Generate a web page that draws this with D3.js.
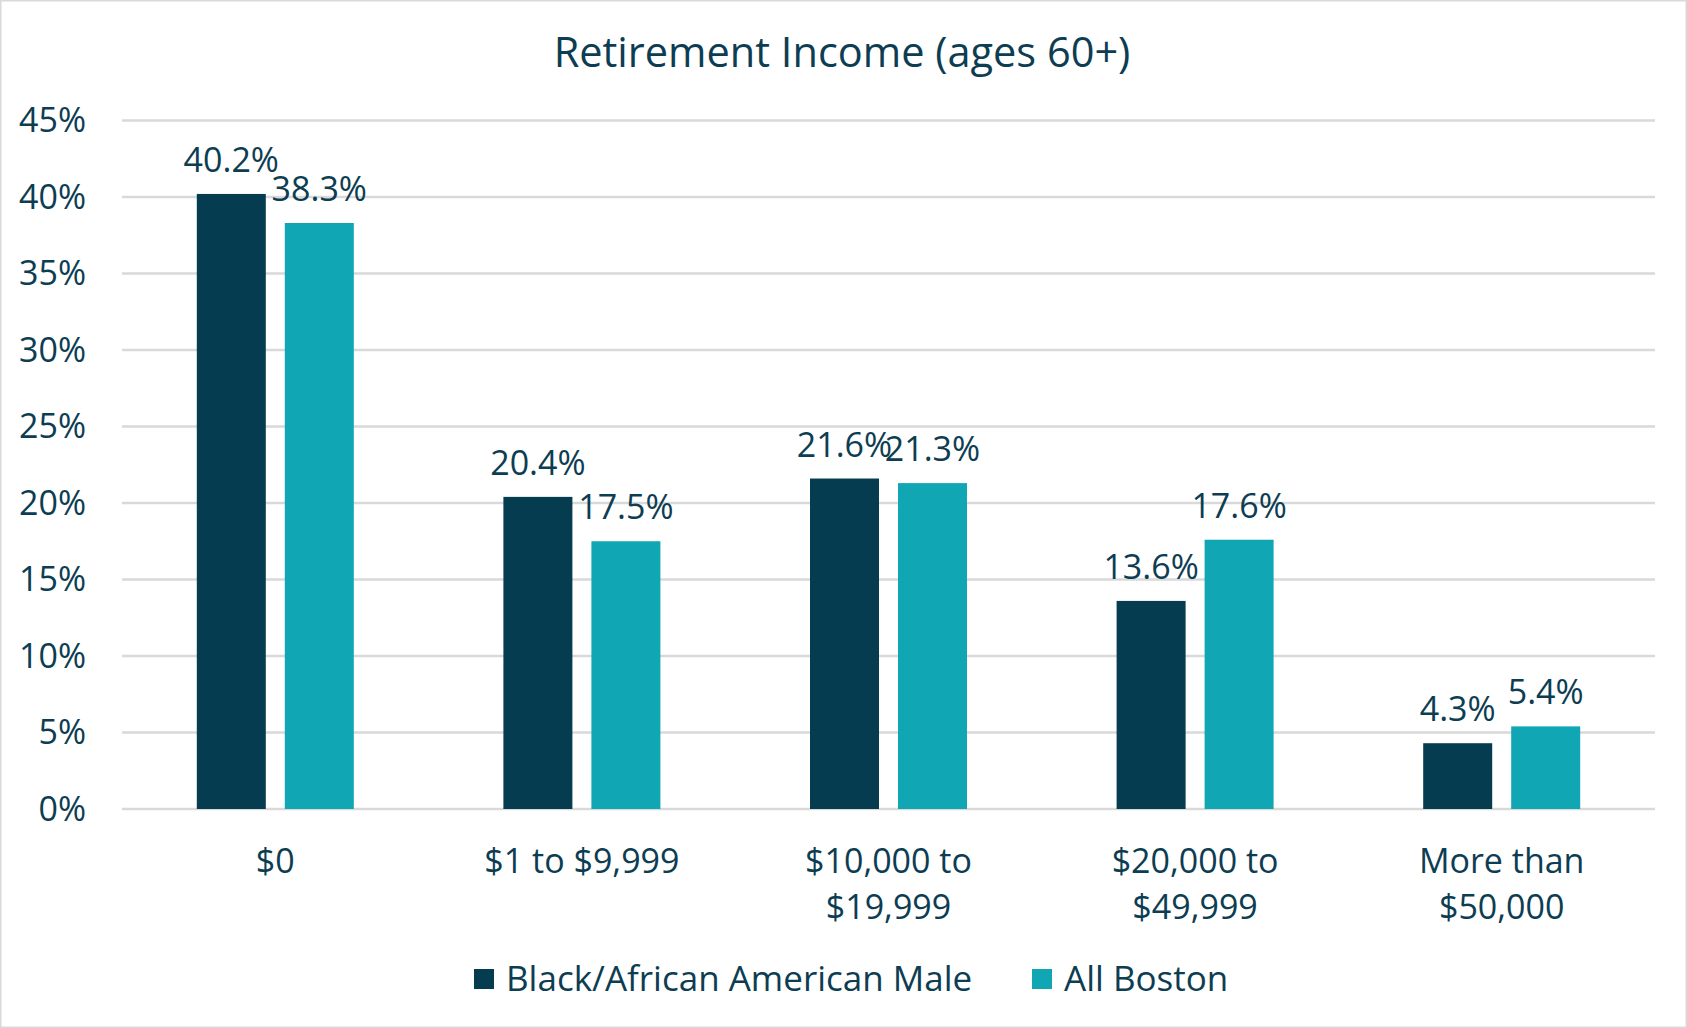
<!DOCTYPE html>
<html>
<head>
<meta charset="utf-8">
<script src="https://cdn.jsdelivr.net/npm/d3@7"></script>
<style>
  body { margin: 0; background: #fff; }
  svg { display: block; font-family: "Open Sans", sans-serif; }
</style>
</head>
<body>
<div id="chart"></div>
<script>
// Chart data
const categories = [['$0'], ['$1 to $9,999'], ['$10,000 to', '$19,999'], ['$20,000 to', '$49,999'], ['More than', '$50,000']];
const seriesNames = ['Black/African American Male', 'All Boston'];
const blackMale = [40.2, 20.4, 21.6, 13.6, 4.3];
const allBoston = [38.3, 17.5, 21.3, 17.6, 5.4];
const yTicks = [0, 5, 10, 15, 20, 25, 30, 35, 40, 45];

const colors = ['#053c4f', '#11a6b4'];
const textColor = '#0d3d52';

const width = 1687;
const height = 1028;
const margin = { top: 120.5, right: 32, bottom: 219, left: 122 };

const svg = d3.select('#chart')
    .append('svg')
    .attr('width', width)
    .attr('height', height);

// Outer border
svg.append('rect')
    .attr('x', 0.5).attr('y', 0.5)
    .attr('width', width - 1).attr('height', height - 1)
    .attr('fill', '#fff')
    .attr('stroke', '#d9d9d9')
    .attr('stroke-width', 2);

// Scales
const keys = categories.map(c => c.join(' '));
const x0 = d3.scaleBand()
    .domain(keys)
    .range([margin.left, width - margin.right])
    .paddingInner(0)
    .paddingOuter(0);

const groupWidth = 157;
const x1 = d3.scaleBand()
    .domain(seriesNames)
    .range([x0.bandwidth() / 2 - groupWidth / 2, x0.bandwidth() / 2 + groupWidth / 2])
    .paddingInner(19 / 88);

const y = d3.scaleLinear()
    .domain([0, 45])
    .range([height - margin.bottom, margin.top]);

// Gridlines
svg.append('g')
    .selectAll('line')
    .data(yTicks)
    .enter()
    .append('line')
    .attr('x1', margin.left)
    .attr('x2', width - margin.right)
    .attr('y1', d => y(d))
    .attr('y2', d => y(d))
    .attr('stroke', '#d9d9d9')
    .attr('stroke-width', 2.5);

// Y axis labels
svg.append('g')
    .selectAll('text')
    .data(yTicks)
    .enter()
    .append('text')
    .attr('x', 86)
    .attr('y', d => y(d))
    .attr('dy', '0.35em')
    .attr('text-anchor', 'end')
    .attr('font-size', 34)
    .attr('fill', textColor)
    .text(d => d + '%');

// Bars
const rows = keys.map((k, i) => ({ key: k, values: [blackMale[i], allBoston[i]] }));

const groups = svg.append('g')
    .selectAll('g')
    .data(rows)
    .enter()
    .append('g')
    .attr('transform', d => `translate(${x0(d.key)},0)`);

groups.selectAll('rect')
    .data(d => d.values.map((v, j) => ({ name: seriesNames[j], value: v, j })))
    .enter()
    .append('rect')
    .attr('x', d => x1(d.name))
    .attr('width', x1.bandwidth())
    .attr('y', d => y(d.value))
    .attr('height', d => y(0) - y(d.value))
    .attr('fill', d => colors[d.j]);

// Data labels
groups.selectAll('text')
    .data(d => d.values.map((v, j) => ({ name: seriesNames[j], value: v, j })))
    .enter()
    .append('text')
    .attr('x', d => x1(d.name) + x1.bandwidth() / 2)
    .attr('y', d => y(d.value) - 22)
    .attr('text-anchor', 'middle')
    .attr('font-size', 34)
    .attr('fill', textColor)
    .text(d => d.value.toFixed(1) + '%');

// X axis labels
const xLabels = svg.append('g')
    .selectAll('text')
    .data(categories)
    .enter()
    .append('text')
    .attr('x', (d, i) => x0(keys[i]) + x0.bandwidth() / 2)
    .attr('y', 861)
    .attr('text-anchor', 'middle')
    .attr('font-size', 34)
    .attr('fill', textColor);

xLabels.selectAll('tspan')
    .data(d => d)
    .enter()
    .append('tspan')
    .attr('x', function() { return d3.select(this.parentNode).attr('x'); })
    .attr('dy', (d, i) => i === 0 ? '0.35em' : 46)
    .text(d => d);

// Title
svg.append('text')
    .attr('x', 842)
    .attr('y', 52)
    .attr('dy', '0.35em')
    .attr('text-anchor', 'middle')
    .attr('font-size', 41.5)
    .attr('fill', textColor)
    .text('Retirement Income (ages 60+)');

// Legend
const legendX = [474, 1032];
const legend = svg.append('g')
    .selectAll('g')
    .data(seriesNames)
    .enter()
    .append('g')
    .attr('transform', (d, i) => `translate(${legendX[i]},979)`);

legend.append('rect')
    .attr('x', 0)
    .attr('y', -10)
    .attr('width', 20)
    .attr('height', 20)
    .attr('fill', (d, i) => colors[i]);

legend.append('text')
    .attr('x', 32)
    .attr('y', 0)
    .attr('dy', '0.35em')
    .attr('font-size', 35)
    .attr('fill', textColor)
    .text(d => d);
</script>
</body>
</html>
